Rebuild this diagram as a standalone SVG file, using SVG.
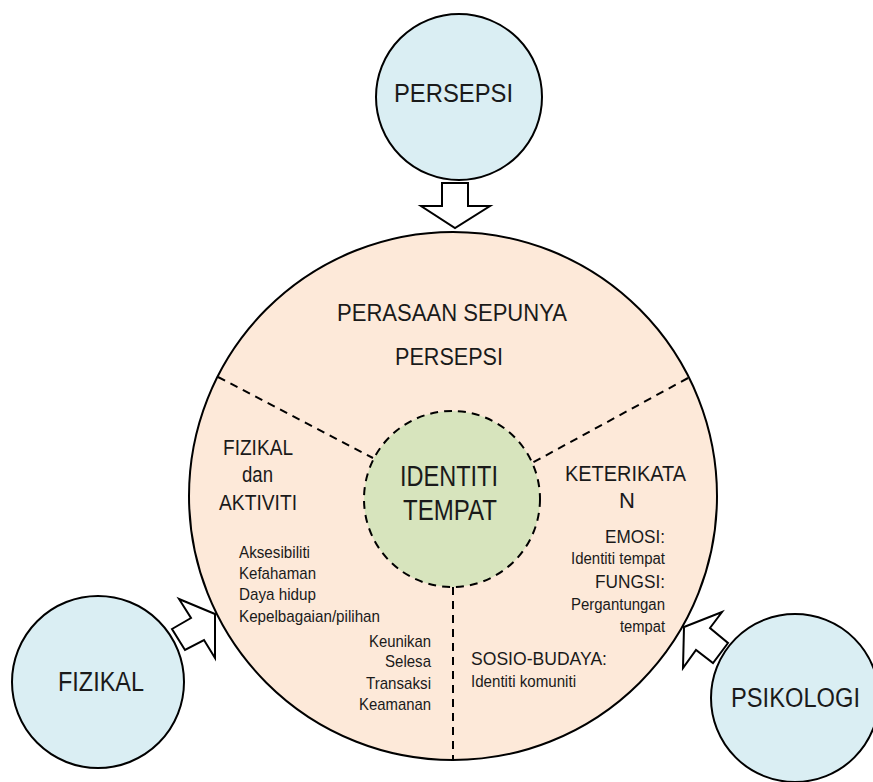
<svg xmlns="http://www.w3.org/2000/svg" width="873" height="782" viewBox="0 0 873 782">
<style>
text{font-family:"Liberation Sans",Arial,sans-serif;fill:#1a1a1a}
.outer{fill:#DAEEF3;stroke:#000;stroke-width:2}
.arrow{fill:#fff;stroke:#000;stroke-width:2;stroke-linejoin:miter}
.dash{fill:none;stroke:#000;stroke-width:2;stroke-dasharray:8 6}
.big{font-size:25px}
.mid{font-size:22px}
.sub{font-size:19px}
.sm{font-size:17px}
.xs{font-size:16px}
</style>
<rect width="873" height="782" fill="#fff"/>
<g id="main-circle">
  <circle cx="453" cy="496" r="264" fill="#FDE9D9" stroke="#000" stroke-width="2"/>
  <line class="dash" x1="218" y1="377" x2="373" y2="458"/>
  <line class="dash" x1="688" y1="378" x2="532" y2="463"/>
  <line class="dash" x1="453" y1="587" x2="453" y2="760"/>
  <text x="337" y="321" style="font-size:24px" textLength="230" lengthAdjust="spacingAndGlyphs">PERASAAN SEPUNYA</text>
  <text x="395" y="365" style="font-size:24px" textLength="108" lengthAdjust="spacingAndGlyphs">PERSEPSI</text>
  <text class="mid" x="223" y="455" textLength="70" lengthAdjust="spacingAndGlyphs">FIZIKAL</text>
  <text class="mid" x="242" y="482" textLength="31" lengthAdjust="spacingAndGlyphs">dan</text>
  <text class="mid" x="219" y="510" textLength="78" lengthAdjust="spacingAndGlyphs">AKTIVITI</text>
  <text class="sm" x="239" y="558" textLength="71" lengthAdjust="spacingAndGlyphs">Aksesibiliti</text>
  <text class="sm" x="239" y="579" textLength="77" lengthAdjust="spacingAndGlyphs">Kefahaman</text>
  <text class="sm" x="239" y="600" textLength="77" lengthAdjust="spacingAndGlyphs">Daya hidup</text>
  <text class="sm" x="239" y="622" textLength="141" lengthAdjust="spacingAndGlyphs">Kepelbagaian/pilihan</text>
  <text class="sm" x="369" y="647" textLength="62" lengthAdjust="spacingAndGlyphs">Keunikan</text>
  <text class="sm" x="385" y="667" textLength="46" lengthAdjust="spacingAndGlyphs">Selesa</text>
  <text class="sm" x="366" y="689" textLength="65" lengthAdjust="spacingAndGlyphs">Transaksi</text>
  <text class="sm" x="359" y="710" textLength="72" lengthAdjust="spacingAndGlyphs">Keamanan</text>
  <text class="mid" x="565" y="481" textLength="121" lengthAdjust="spacingAndGlyphs">KETERIKATA</text>
  <text class="mid" x="619" y="508">N</text>
  <text class="sub" x="605" y="543" textLength="60" lengthAdjust="spacingAndGlyphs">EMOSI:</text>
  <text class="xs" x="571" y="564" textLength="94" lengthAdjust="spacingAndGlyphs">Identiti tempat</text>
  <text class="sub" x="595" y="588" textLength="70" lengthAdjust="spacingAndGlyphs">FUNGSI:</text>
  <text class="xs" x="571" y="610" textLength="94" lengthAdjust="spacingAndGlyphs">Pergantungan</text>
  <text class="xs" x="620" y="632" textLength="45" lengthAdjust="spacingAndGlyphs">tempat</text>
  <text class="sub" x="471" y="665" textLength="136" lengthAdjust="spacingAndGlyphs">SOSIO-BUDAYA:</text>
  <text class="xs" x="471" y="687" textLength="105" lengthAdjust="spacingAndGlyphs">Identiti komuniti</text>
</g>
<g id="identiti-tempat">
  <circle cx="452" cy="499" r="88" fill="#D7E4BD" stroke="#000" stroke-width="2" stroke-dasharray="8 6"/>
  <text x="400" y="486" style="font-size:29px" textLength="98" lengthAdjust="spacingAndGlyphs">IDENTITI</text>
  <text x="403" y="520" style="font-size:29px" textLength="94" lengthAdjust="spacingAndGlyphs">TEMPAT</text>
</g>
<g id="persepsi">
  <circle class="outer" cx="459" cy="97" r="83"/>
  <text class="big" x="394" y="102" textLength="119" lengthAdjust="spacingAndGlyphs">PERSEPSI</text>
</g>
<g id="fizikal">
  <circle class="outer" cx="98" cy="682" r="86"/>
  <text x="58" y="691" style="font-size:27px" textLength="86" lengthAdjust="spacingAndGlyphs">FIZIKAL</text>
</g>
<g id="psikologi">
  <circle class="outer" cx="795" cy="698" r="84"/>
  <text x="731" y="707" style="font-size:27px" textLength="129" lengthAdjust="spacingAndGlyphs">PSIKOLOGI</text>
</g>
<g id="connectors">
  <polygon class="arrow" points="442,183 468,183 468,206 490,206 455,228 421,206 442,206"/>
  <polygon class="arrow" points="179,599 215,614 215,658 204,640 185,650 172,629 191,618"/>
  <polygon class="arrow" points="684,627 722,612 710,628 728,643 713,663 696,650 683,668"/>
</g>
</svg>
